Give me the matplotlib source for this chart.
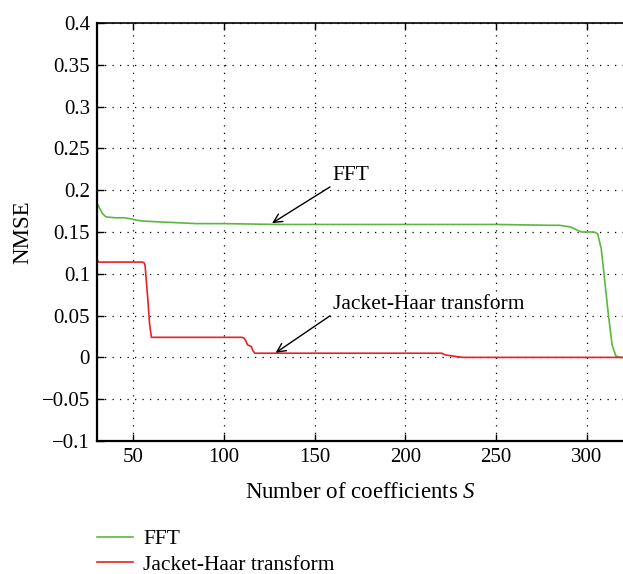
import numpy as np
import matplotlib
matplotlib.use('Agg')
import matplotlib.pyplot as plt
from matplotlib.lines import Line2D

plt.rcParams['font.family'] = ['Liberation Serif', 'DejaVu Serif']
plt.rcParams['mathtext.fontset'] = 'custom'
plt.rcParams['mathtext.it'] = 'Liberation Serif:italic'

# NMSE curves
fft_x = [30, 31, 33, 35, 40, 45, 48, 52, 56, 65, 75, 85, 100, 130, 200, 250, 280, 285,
         288, 291, 294, 297, 300, 304, 306, 308, 310, 312, 314, 316, 318, 320]
fft_y = [0.185, 0.180, 0.172, 0.168, 0.167, 0.167, 0.166, 0.164, 0.163, 0.162, 0.161,
         0.160, 0.160, 0.159, 0.159, 0.159, 0.158, 0.158, 0.157, 0.156, 0.153, 0.150,
         0.150, 0.150, 0.148, 0.130, 0.090, 0.050, 0.015, 0.002, 0.0, 0.0]

jh_x = [30, 30.8, 32, 50, 55, 56, 56.5, 58, 59, 60, 61, 100, 110, 111, 112, 113, 114,
        115, 116, 117, 150, 200, 218, 220, 222, 225, 228, 232, 320]
jh_y = [0.117, 0.114, 0.114, 0.114, 0.114, 0.113, 0.110, 0.070, 0.040, 0.024, 0.024,
        0.024, 0.024, 0.023, 0.020, 0.015, 0.014, 0.013, 0.008, 0.005, 0.005, 0.005,
        0.005, 0.005, 0.003, 0.002, 0.001, 0.0, 0.0]

green = '#5cb83c'
red = '#e82028'

fig = plt.figure(figsize=(6.23, 5.74), dpi=100)
ax = fig.add_axes([0.1557, 0.2317, 0.8443, 0.7283])

ax.plot(fft_x, fft_y, color=green, lw=1.2)
ax.plot(jh_x, jh_y, color=red, lw=1.2)

ax.set_xlim(30, 320)
ax.set_ylim(-0.1, 0.4)
ax.set_xticks([50, 100, 150, 200, 250, 300])
yt = np.arange(-0.1, 0.401, 0.05)
ax.set_yticks(yt)
ax.set_yticklabels(['\u22120.1', '\u22120.05', '0', '0.05', '0.1', '0.15', '0.2',
                    '0.25', '0.3', '0.35', '0.4'])
ax.tick_params(direction='in', top=True, right=False, labelsize=15, length=5, width=1,
               pad=5)
ax.grid(True, color='black', linestyle=(0, (1, 5)), linewidth=0.9)
for s in ['left', 'bottom']:
    ax.spines[s].set_linewidth(1.6)
ax.spines['top'].set_linewidth(1.2)
ax.spines['right'].set_visible(False)

ax.set_xlabel('Number of coefficients $S$', fontsize=16.5, labelpad=11)
ax.set_ylabel('NMSE', fontsize=16.5, labelpad=6)

ax.annotate('FFT', xy=(126.5, 0.1605), xytext=(160, 0.206),
            fontsize=15.5, ha='left', va='bottom',
            arrowprops=dict(arrowstyle='->', color='black', lw=1, relpos=(0, 0),
                            shrinkA=0, shrinkB=0))
ax.annotate('Jacket-Haar transform', xy=(128.5, 0.0055), xytext=(160, 0.052),
            fontsize=15.5, ha='left', va='bottom',
            arrowprops=dict(arrowstyle='->', color='black', lw=1, relpos=(0, 0),
                            shrinkA=0, shrinkB=0))

handles = [Line2D([], [], color=green, lw=1.2), Line2D([], [], color=red, lw=1.2)]
fig.legend(handles, ['FFT', 'Jacket-Haar transform'], loc='upper left',
           bbox_to_anchor=(0.1557, 0.078), frameon=False, fontsize=15.5,
           handlelength=1.67, handletextpad=0.47, labelspacing=0.25,
           borderpad=0, borderaxespad=0)

fig.savefig('out.png', dpi=100)
